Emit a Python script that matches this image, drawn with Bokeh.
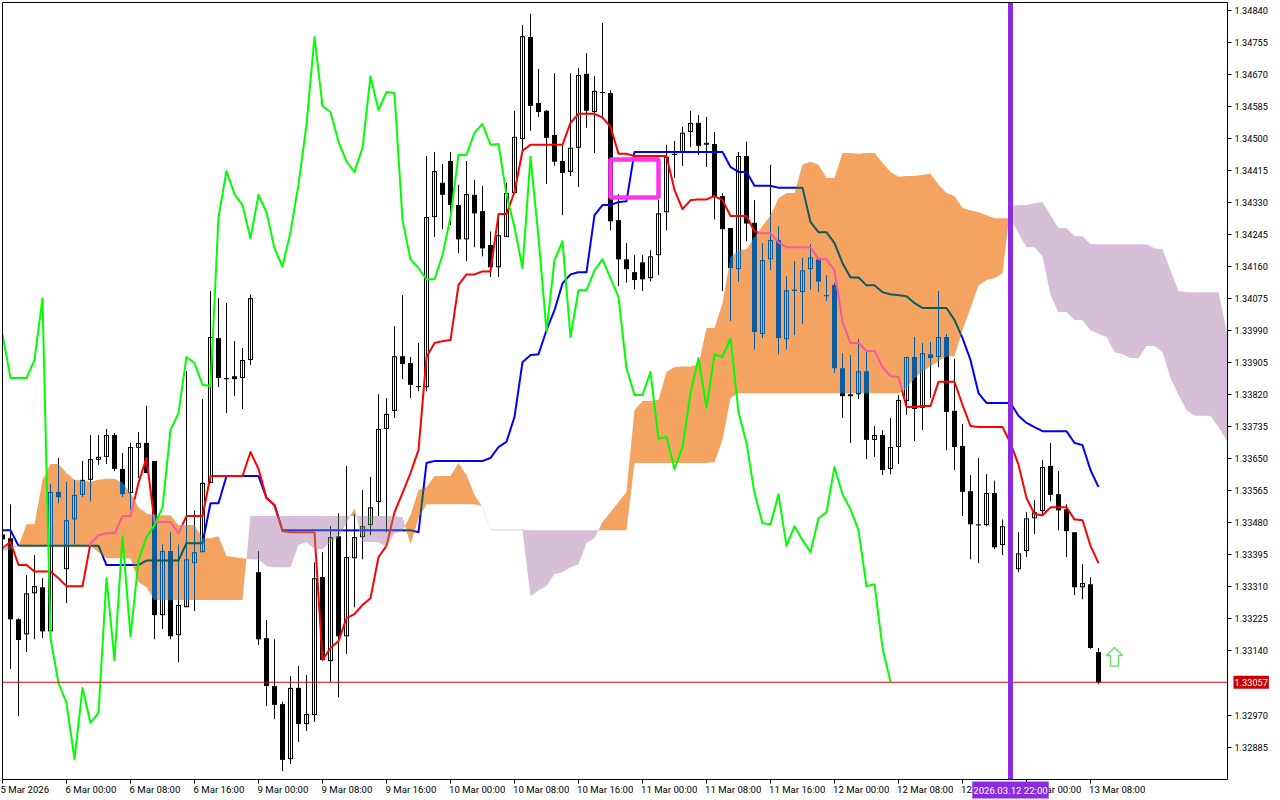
import numpy as np
from bokeh.plotting import figure
from bokeh.models import FixedTicker, PrintfTickFormatter, Label
from bokeh.embed import file_html
from bokeh.resources import INLINE

# all prices in points (1.33057 -> 133057)
open_pts = [133449,133439,133224,133184,133293,133309,133192,133562,133357,133489,133554,133594,133647,133655,133713,133623,133559,133679,133692,133644,133235,133405,133182,133256,133373,133402,133586,133970,133864,133869,133864,133912,
133349,133174,133047,132999,132853,133042,132946,132970,133336,133113,133444,133179,133386,133442,133474,133535,133729,133777,133922,133904,133843,133840,134291,134382,134440,134323,134232,134350,134307,134217,134158,134238,
134355,134498,134769,134594,134573,134509,134440,134411,134475,134671,134570,134623,134620,134283,134179,134145,134171,134129,134190,134304,134459,134461,134517,134541,134483,134485,134347,134262,134153,134453,134276,133981,
134179,134230,133967,134099,134092,134153,134179,134084,134111,133890,133821,133821,133882,133700,133713,133623,133681,133803,133920,133785,133927,133920,133973,133777,133684,133564,133476,133474,133559,133421,133419,133357,
133405,133492,133511,133631,133556,133516,133455,133309,133317,133137]
close_pts = [133436,133224,133169,133293,133312,133192,133562,133548,133487,133554,133594,133649,133655,133713,133623,133556,133681,133692,133612,133235,133405,133179,133262,133383,133402,133586,133973,133864,133861,133861,133912,134076,
133171,133047,132997,132851,133042,132946,132973,133333,133116,133442,133179,133389,133442,133471,133521,133729,133769,133922,133901,133846,133840,134291,134413,134350,134323,134232,134352,134301,134208,134158,134243,134355,
134504,134771,134586,134570,134501,134438,134408,134475,134668,134573,134626,134620,134280,134179,134153,134124,134126,134187,134301,134451,134456,134515,134541,134480,134488,134344,134259,134156,134453,134274,133986,134177,
134230,133970,134097,134095,134150,134184,134120,134081,133890,133816,133816,133882,133700,133713,133620,133681,133806,133920,133782,133930,133917,133973,133774,133681,133562,133476,133473,133559,133415,133471,133399,133399,
133492,133508,133628,133554,133513,133458,133309,133320,133148,133057]
high_pts = [133460,133529,133227,133341,133394,133333,133583,133652,133589,133594,133644,133713,133713,133729,133718,133665,133692,133721,133790,133644,133423,133455,133423,133882,133513,133808,134095,134076,134063,133962,133944,134086,
133405,133222,133171,133005,133073,133100,133076,133375,133402,133471,133505,133631,133505,133567,133602,133821,133811,134002,134084,133920,133957,134453,134464,134432,134464,134377,134440,134390,134374,134253,134299,134382,
134573,134801,134830,134684,134575,134673,134483,134673,134687,134726,134665,134806,134628,134352,134222,134190,134190,134203,134336,134483,134493,134531,134573,134562,134557,134517,134355,134262,134464,134491,134336,134222,
134430,134267,134134,134174,134184,134219,134184,134137,134117,133930,133925,133967,133933,133737,133726,133758,133819,133920,133973,133957,133960,134095,133981,133914,133742,133607,133652,133609,133592,133489,133434,133455,
133508,133540,133647,133692,133617,133529,133455,133370,133336,133148]
low_pts = [133421,133092,132967,133137,133171,133174,133187,133532,133267,133423,133548,133537,133634,133636,133617,133548,133516,133599,133612,133171,133198,133171,133110,133256,133246,133402,133586,133840,133771,133816,133782,133899,
133156,132994,132959,132821,132840,132899,132928,132952,133116,133058,133017,133132,133256,133383,133447,133498,133455,133758,133861,133811,133829,133829,134238,134259,134270,134195,134174,134211,134187,134132,134132,134238,
134355,134461,134520,134557,134379,134427,134296,134400,134371,134528,134461,134557,134256,134108,134117,134099,134095,134120,134137,134256,134395,134427,134477,134456,134424,134285,134095,134015,134120,134227,133940,133970,
134150,133927,133940,133978,134007,134099,134092,134068,133877,133758,133692,133808,133649,133655,133607,133609,133636,133766,133697,133726,133811,133893,133673,133620,133498,133383,133373,133471,133410,133394,133380,133349,
133389,133450,133500,133537,133460,133389,133288,133277,133146,133052]

tenkan_pts = [133413,133429,133368,133368,133351,133351,133351,133333,133312,133312,133312,133426,133447,133452,133452,133498,133498,133586,133652,133482,133482,133482,133452,133498,133498,133498,133604,133604,133604,133604,133604,133668,
133623,133546,133527,133458,133455,133455,133455,133455,133116,133148,133166,133227,133238,133262,133280,133389,133419,133508,133559,133612,133673,133920,133957,133962,133965,134111,134139,134139,134147,134147,134299,134299,
134358,134467,134483,134483,134483,134483,134483,134541,134565,134565,134565,134555,134531,134459,134459,134453,134453,134453,134453,134453,134363,134312,134336,134338,134338,134347,134336,134294,134294,134294,134253,134248,
134248,134224,134211,134211,134211,134211,134179,134179,134150,134013,133957,133957,133936,133936,133893,133869,133867,133787,133787,133790,133790,133854,133854,133854,133793,133737,133734,133734,133734,133734,133692,133634,
133546,133503,133500,133521,133521,133521,133489,133487,133419,133373]
kijun_pts = [133460,133460,133419,133419,133419,133419,133419,133419,133419,133419,133419,133419,133419,133368,133368,133368,133368,133368,133380,133380,133380,133380,133380,133426,133426,133426,133532,133532,133604,133604,133604,133604,
133604,133546,133527,133460,133460,133460,133460,133460,133460,133460,133460,133460,133460,133460,133460,133460,133460,133460,133460,133460,133455,133639,133644,133644,133644,133644,133644,133644,133644,133652,133681,133695,
133761,133906,133925,133927,133991,134044,134115,134139,134145,134145,134296,134323,134323,134331,134333,134464,134464,134464,134464,134464,134464,134464,134464,134464,134464,134464,134464,134424,134411,134411,134374,134374,
134374,134369,134369,134369,134369,134278,134251,134251,134222,134169,134131,134131,134110,134110,134092,134086,134084,134081,134063,134050,134050,134050,134050,134018,133970,133912,133824,133798,133798,133798,133798,133764,
133745,133734,133723,133723,133723,133723,133692,133686,133620,133575]
chikou_pts = [133980,133864,133864,133864,133912,134076,133174,133055,133002,132853,133042,132949,132976,133333,133116,133442,133179,133380,133442,133474,133521,133726,133771,133920,133904,133846,133843,134291,134413,134352,134323,134235,
134350,134304,134208,134160,134251,134377,134536,134769,134586,134570,134491,134438,134411,134475,134665,134575,134623,134620,134283,134179,134156,134126,134126,134190,134291,134456,134456,134515,134538,134483,134485,134350,
134264,134156,134451,134238,133989,134177,134227,133973,134097,134097,134150,134179,134129,134079,133890,133819,133819,133880,133703,133708,133623,133681,133824,133917,133785,133927,133920,133970,133774,133692,133559,133479,
133476,133556,133419,133471,133434,133402,133492,133508,133628,133556,133516,133460,133312,133317,133148,133058]
senkou_a_pts = [133405,133410,133419,133476,133476,133594,133636,133636,133612,133594,133592,133589,133594,133597,133597,133586,133559,133521,133505,133500,133500,133500,133474,133474,133474,133439,133439,133444,133392,133389,133386,
133383,133383,133365,133362,133362,133362,133421,133429,133410,133410,133429,133442,133479,133519,133429,133429,133429,133415,133452,133458,133500,133567,133575,133604,133604,133604,133639,133607,133554,133521,
133460,133460,133460,133460,133460,133285,133301,133312,133344,133349,133362,133370,133426,133439,133482,133508,133535,133562,133779,133803,133803,133806,133880,133893,133895,133895,133899,133997,133997,134063,
134184,134203,134206,134238,134267,134296,134341,134355,134355,134430,134438,134430,134395,134395,134461,134461,134459,134461,134461,134435,134411,134398,134400,134400,134403,134406,134377,134355,134347,134315,
134309,134304,134296,134288,134288,134288,134248,134211,134211,134187,134084,134039,134039,134018,134018,133991,133981,133973,133933,133927,133917,133917,133949,133949,133933,133864,133819,133779,133764,133764,133764,133734,133700,133684]
senkou_b_pts = [133419,133419,133419,133419,133419,133419,133419,133419,133419,133419,133419,133419,133402,133386,133386,133386,133386,133323,133309,133275,133275,133275,133275,133275,133275,133275,133275,133275,133275,133275,133275,
133498,133498,133498,133498,133498,133498,133498,133498,133498,133498,133498,133498,133498,133498,133498,133498,133498,133498,133498,133495,133423,133492,133529,133529,133529,133529,133529,133529,133529,133524,
133462,133462,133462,133462,133462,133460,133460,133460,133460,133460,133460,133460,133460,133460,133460,133460,133460,133460,133639,133639,133639,133639,133639,133639,133639,133639,133639,133639,133641,133700,
133811,133824,133824,133824,133824,133824,133824,133824,133824,133824,133824,133824,133824,133824,133824,133824,133824,133824,133824,133824,133824,133824,133837,133864,133882,133895,133909,133922,133922,133991,
134050,134110,134124,134129,134142,134320,134323,134323,134328,134331,134296,134262,134262,134240,134240,134219,134219,134219,134219,134219,134219,134219,134219,134208,134206,134150,134095,134092,134092,134092,134092,134092,133991,133951]

price_ticks = [1.34840,1.34755,1.34670,1.34585,1.34500,1.34415,1.34330,1.34245,1.34160,1.34075,1.33990,1.33905,1.33820,1.33735,1.33650,1.33565,1.33480,1.33395,1.33310,1.33225,1.33140,1.32970,1.32885]
time_bars = [0,8,16,24,32,40,48,56,64,72,80,88,96,104,112,120,128,136]
time_labels = ["5 Mar 2026","6 Mar 00:00","6 Mar 08:00","6 Mar 16:00","9 Mar 00:00","9 Mar 08:00","9 Mar 16:00","10 Mar 00:00","10 Mar 08:00","10 Mar 16:00","11 Mar 00:00","11 Mar 08:00","11 Mar 16:00","12 Mar 00:00","12 Mar 08:00","12 Mar 16:00","13 Mar 00:00","13 Mar 08:00"]
last_price = 1.33057
cursor_bar = 126
cursor_text = "2026.03.12 22:00"
box_bars = (76, 82)
box_pts = (134343, 134444)
arrow_bar = 139
arrow_pts = 133100

P = lambda a: np.asarray(a, float) / 1e5
SAND, THISTLE = "#f4a460", "#d8bfd8"
FONT, FS = "Roboto", "9.2px"
BAR = 8.0
PXY = 2.653e-5
# the frame fills the page; the chart area inside it is bounded by the box below
x_start, x_end = -2 / BAR, 1278 / BAR
y_end = 1.348657
y_start = y_end - 800 * PXY
area_left, area_right = 0.0, 1225 / BAR
area_top, area_bottom = y_end - 2 * PXY, y_end - 779 * PXY

p = figure(width=1280, height=800, output_backend="svg", toolbar_location=None,
           x_range=(x_start, x_end), y_range=(y_start, y_end), y_axis_location="right",
           min_border=0, background_fill_color="white", border_fill_color="white")
p.grid.visible = False
p.outline_line_color = None

# axes
yax = p.yaxis[0]
yax.fixed_location = area_right
yax.ticker = FixedTicker(ticks=price_ticks)
yax.formatter = PrintfTickFormatter(format="%.5f")
yax.major_tick_in = 0; yax.major_tick_out = 4; yax.minor_tick_out = 0; yax.minor_tick_in = 0
yax.major_label_standoff = 3
xax = p.xaxis[0]
xax.fixed_location = area_bottom
label_pos = [round(b + 0.278 * len(t), 3) for b, t in zip(time_bars, time_labels)]
xax.ticker = FixedTicker(ticks=label_pos, minor_ticks=time_bars)
xax.major_label_overrides = dict(zip(label_pos, time_labels))
xax.major_tick_in = 0; xax.major_tick_out = 0; xax.minor_tick_in = 0; xax.minor_tick_out = 4
xax.major_label_standoff = 0
for ax in (xax, yax):
    ax.axis_line_color = None
    ax.major_label_text_font = FONT
    ax.major_label_text_font_size = FS
    ax.major_label_text_color = "black"
xax.major_label_text_font_size = "9.6px"

# cloud
bars = np.arange(len(senkou_a_pts), dtype=float)
A, B = P(senkou_a_pts), P(senkou_b_pts)
grid = np.arange(0, area_right + 1e-9, 1 / 16)
Ag, Bg = np.interp(grid, bars, A), np.interp(grid, bars, B)
p.varea(grid, y1=Bg, y2=np.maximum(Ag, Bg), fill_color=SAND)
p.varea(grid, y1=Bg, y2=np.minimum(Ag, Bg), fill_color=THISTLE)

def zone(x, y):
    a, b = np.interp(x, bars, A), np.interp(x, bars, B)
    if min(a, b) <= y <= max(a, b):
        return "sand" if a >= b else "thistle"
    return None

INK = {None: "#000000", "sand": "#0b5b9f", "thistle": "#274027"}
def pieces(x, lo, hi):
    a, b = np.interp(x, bars, A), np.interp(x, bars, B)
    c0, c1 = min(a, b), max(a, b)
    tone = INK["sand"] if a >= b else INK["thistle"]
    if hi <= c0 or lo >= c1:
        return [(lo, hi, "#000000")]
    out = []
    if lo < c0:
        out.append((lo, c0, "#000000"))
    out.append((max(lo, c0), min(hi, c1), tone))
    if hi > c1:
        out.append((c1, hi, "#000000"))
    return out

# candles: wicks and bodies as one-pixel strokes so that each pixel takes its own tone
O, C, H, L = P(open_pts), P(close_pts), P(high_pts), P(low_pts)
sx0, sx1, sy0, sy1, sc = [], [], [], [], []
def stroke(x0, y0, x1, y1, c):
    sx0.append(x0); sx1.append(x1); sy0.append(y0); sy1.append(y1); sc.append(c)
for i in range(len(O)):
    for lo, hi, col in pieces(float(i), L[i], H[i]):
        stroke(float(i), lo, float(i), hi, col)
    top, bot = max(O[i], C[i]), min(O[i], C[i])
    for dx in range(-2, 3):
        xc = i + dx / BAR
        if xc < area_left:
            continue
        if C[i] < O[i] or abs(dx) == 2:
            for lo, hi, col in pieces(xc, bot, top):
                stroke(xc, lo, xc, hi, col)
        else:
            for yrow in (top - PXY / 2, bot + PXY / 2):
                col = INK[zone(xc, yrow)]
                stroke(xc - 0.5 / BAR, yrow, xc + 0.5 / BAR, yrow, col)
p.segment(sx0, sy0, sx1, sy1, line_color=sc, line_width=1)

# tenkan / kijun with the tone they get inside the cloud
def toned(values, tones, n=16):
    idx = np.arange(len(values), dtype=float)
    xf = np.arange(0, len(values) - 1 + 1e-9, 1 / n)
    yf = np.interp(xf, idx, values)
    xs, ys, cs = [], [], []
    cur, cx, cy = None, [], []
    for k in range(len(xf) - 1):
        c = tones[zone((xf[k] + xf[k + 1]) / 2, (yf[k] + yf[k + 1]) / 2)]
        if c != cur:
            if cur is not None:
                xs.append(cx); ys.append(cy); cs.append(cur)
            cur, cx, cy = c, [xf[k]], [yf[k]]
        cx.append(xf[k + 1]); cy.append(yf[k + 1])
    xs.append(cx); ys.append(cy); cs.append(cur)
    return xs, ys, cs

for vals, tones in ((kijun_pts, {None: "#0000ff", "sand": "#0b5b60", "thistle": "#2740d8"}),
                    (tenkan_pts, {None: "#ff0000", "sand": "#f45b9f", "thistle": "#d84027"})):
    xs, ys, cs = toned(P(vals), tones)
    p.multi_line(xs, ys, line_color=cs, line_width=2, line_join="round")

# chikou
p.line(np.arange(len(chikou_pts)), P(chikou_pts), line_color="#00ff00", line_width=2, line_join="round")

# rectangle object
p.quad(left=[box_bars[0]], right=[box_bars[1]], bottom=[box_pts[0] / 1e5], top=[box_pts[1] / 1e5],
       fill_color=None, line_color="#ff33ee", line_width=4.5)

# arrow marker
adx = np.array([0, 1.0, 0.5, 0.5, -0.5, -0.5, -1.0])
ady = np.array([49, 28, 28, 0, 0, 28, 28]) / 1e5
p.patch(arrow_bar + adx, arrow_pts / 1e5 + ady, fill_color="white", line_color="#6fdd66", line_width=1.5)

# last price and cursor
p.segment([area_left], [last_price], [area_right], [last_price], line_color="#e80000", line_width=1.2)
p.segment([cursor_bar], [area_bottom], [cursor_bar], [area_top], line_color="#8a2be2", line_width=5)

# chart area box
p.quad(left=[area_left], right=[area_right], bottom=[area_bottom], top=[area_top],
       fill_color=None, line_color="black", line_width=1)

# price and time tags
p.add_layout(Label(x=area_right, y=last_price, x_offset=6, text="%.5f" % last_price, text_color="white",
                   text_font=FONT, text_font_size=FS, text_baseline="middle", text_align="left",
                   background_fill_color="#cc0000", padding=(1, 3)))
p.add_layout(Label(x=cursor_bar, y=area_bottom, y_offset=-2, text=cursor_text, text_color="white",
                   text_font=FONT, text_font_size="9.6px", text_baseline="top", text_align="center",
                   background_fill_color="#8a2be2", padding=(1, 3)))

open("out.html", "w").write(file_html(p, INLINE))
